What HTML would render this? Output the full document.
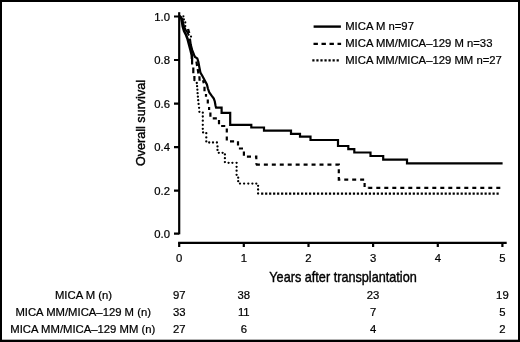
<!DOCTYPE html>
<html><head><meta charset="utf-8">
<style>
html,body{margin:0;padding:0;background:#fff;}
body{width:520px;height:342px;overflow:hidden;}
svg{display:block;will-change:transform;}
text{font-family:"Liberation Sans",sans-serif;fill:#000;stroke:#000;stroke-width:0.22px;}
.t{font-size:11.3px;}
.ti{font-size:14px;stroke-width:0.4px;}
</style></head><body>
<svg width="520" height="342" viewBox="0 0 520 342">
<rect x="0" y="0" width="520" height="342" fill="#000"/>
<rect x="2" y="2" width="516" height="337.7" fill="#fff"/>

<!-- axes -->
<g stroke="#000" stroke-width="2.2" fill="none">
<path d="M179.2 12.2V234.3"/>
<path d="M174 16.5H179.2M174 60H179.2M174 103.6H179.2M174 147.1H179.2M174 190.7H179.2M174 233.6H179.2"/>
<path d="M178.1 242.8H506.7"/>
<path d="M179.2 242.8V247M243.8 242.8V247M308.5 242.8V247M373.1 242.8V247M437.8 242.8V247M502.4 242.8V247"/>
</g>

<!-- y tick labels -->
<g class="t" text-anchor="end">
<text x="170" y="20.8">1.0</text>
<text x="170" y="64.3">0.8</text>
<text x="170" y="107.8">0.6</text>
<text x="170" y="151.4">0.4</text>
<text x="170" y="195">0.2</text>
<text x="170" y="237.9">0.0</text>
</g>
<!-- x tick labels -->
<g class="t" text-anchor="middle">
<text x="179.2" y="261.6">0</text>
<text x="243.8" y="261.6">1</text>
<text x="308.5" y="261.6">2</text>
<text x="373.1" y="261.6">3</text>
<text x="437.8" y="261.6">4</text>
<text x="502.4" y="261.6">5</text>
</g>
<text class="ti" transform="translate(343.05 282.1) scale(0.906 1)" text-anchor="middle">Years after transplantation</text>
<text class="ti" style="font-size:13.5px" transform="translate(145.3 123) rotate(-90) scale(0.933 1)" text-anchor="middle">Overall survival</text>

<!-- legend -->
<g stroke="#000" stroke-width="2.4" fill="none">
<path d="M313.6 26.6H340.9"/>
<path d="M313.5 43.8H341.1" stroke-width="2.2" stroke-dasharray="4.4 3.6"/>
<path d="M312.3 60.4H338.8" stroke-width="2.4" stroke-dasharray="2.2 1.85"/>
</g>
<g class="t">
<text x="345.2" y="30.2">MICA M n=97</text>
<text x="345.2" y="47.3">MICA MM/MICA–129 M n=33</text>
<text x="345.2" y="63.6">MICA MM/MICA–129 MM n=27</text>
</g>

<!-- curves -->
<g fill="none" stroke="#000" stroke-width="2.2" stroke-linejoin="miter" stroke-linecap="butt">
<path stroke-width="2.6" d="M179.6 15.8L181.3 18.5L182.1 22.2L182.7 26.3L184.1 31.1L186.2 35.2L187.7 39.3L189.1 44.6L190.5 49.9L191.8 55.2L192 59"/>
<path stroke-width="2.4" d="M188 29L189.2 33"/>
<path stroke-width="2" d="M180.5 16.5L182.4 19.5L183.2 23L184 26.5L185.5 29.5L187.5 32.5L189 35.5"/>
<g stroke="none" fill="#000"><circle cx="183.4" cy="16.3" r="1.1"/><circle cx="183.9" cy="19.4" r="1.1"/><circle cx="185.3" cy="22.4" r="1.1"/><circle cx="185.3" cy="26.1" r="1.1"/><circle cx="191" cy="36.6" r="1.1"/></g>
<path d="M189.9 38.6L190.7 44.6L192.1 49.9L194.2 55.2L195 57L197.3 58.4L198.4 62L199.3 67L200.4 72.5L202.4 76L204.8 80.5L206.9 84.5L207.9 88.5L209.3 92.4L211.6 95.7L213.8 98.6L214.8 101.5L215.5 105.5L216.1 107.7H221.6V112.8H230.2V124.8H251.3V127.5H264V130.6H291V133.9H300V136.7H310.5V140H338V146H348.3V149.1H354.3V152.5H370.5V156H383.2V159.6H407V163.3H502.6"/>
<path d="M192.1 59V64.5M193.3 67.5V73.3M194.4 76V79.5M196.4 61.5L197.1 66M197.7 69L198.4 73.5M199.4 76.3L199.6 80.7M203 80.2L203.8 83.3M204.5 86.8V91.2M206 94.1V96.8M207.8 99.4V103.4M209.1 106.9V109.9"/>
<path stroke-dasharray="4.1 3.95" d="M210.4 112.6V118.3H219V126H226.8V141.3H238V148.5H243.9V156.6H256.3V164.6"/>
<path stroke-dasharray="4 3.95" stroke-dashoffset="-0.5" d="M255.4 164.6H338.8V179.6H364.6V187.8H368.3"/>
<path stroke-dasharray="4 4" d="M368.3 187.8H500.7"/>
<path stroke-width="2.3" stroke-linecap="round" d="M194.4 80.2h0M196.8 83h0M197.1 86.2h0M197.4 89.7h0M197.6 93.2h0M197.9 96.7h0M198.2 100.2h0M198.6 103.9h0M199.1 107.8h0M199.4 111.8h0M202.8 112.7h0M202.8 116.5h0M202.8 120.7h0M202.8 124.8h0M202.8 128.8h0M203.1 132.4h0M206.3 133.2h0M206.3 137.4h0M206.3 141.4h0M209.2 142.5h0M213 142.5h0M216.9 142.5h0M217.5 146.4h0M217.5 149.9h0M218.8 152.8h0M222.6 152.8h0M224.9 154.4h0M224.9 158.2h0M224.9 162.1h0M228.6 162.8h0M232.4 162.8h0M236.6 162.8h0M236.6 166.8h0M236.6 170.7h0M236.6 174.8h0M238.2 177.7h0M238.2 181.2h0M240 183.6h0M244.1 183.6h0M248.3 183.6h0M252.4 183.6h0M256.3 183.6h0M258.1 185.8h0M258.1 189.5h0M258.1 193.5h0"/>
<path stroke-dasharray="2.2 1.79" stroke-width="2.4" d="M261.1 193.6H499.5"/>
</g>

<!-- at-risk table -->
<g class="t" text-anchor="middle">
<text x="83.5" y="299.2">MICA M (n)</text>
<text x="83.2" y="315.9">MICA MM/MICA–129 M (n)</text>
<text x="82.8" y="332.5">MICA MM/MICA–129 MM (n)</text>
<text x="179.2" y="299.2">97</text>
<text x="179.2" y="315.9">33</text>
<text x="179.2" y="332.5">27</text>
<text x="243.8" y="299.2">38</text>
<text x="243.8" y="315.9">11</text>
<text x="243.8" y="332.5">6</text>
<text x="373.1" y="299.2">23</text>
<text x="373.1" y="315.9">7</text>
<text x="373.1" y="332.5">4</text>
<text x="502.4" y="299.2">19</text>
<text x="502.4" y="315.9">5</text>
<text x="502.4" y="332.5">2</text>
</g>
</svg>
</body></html>
